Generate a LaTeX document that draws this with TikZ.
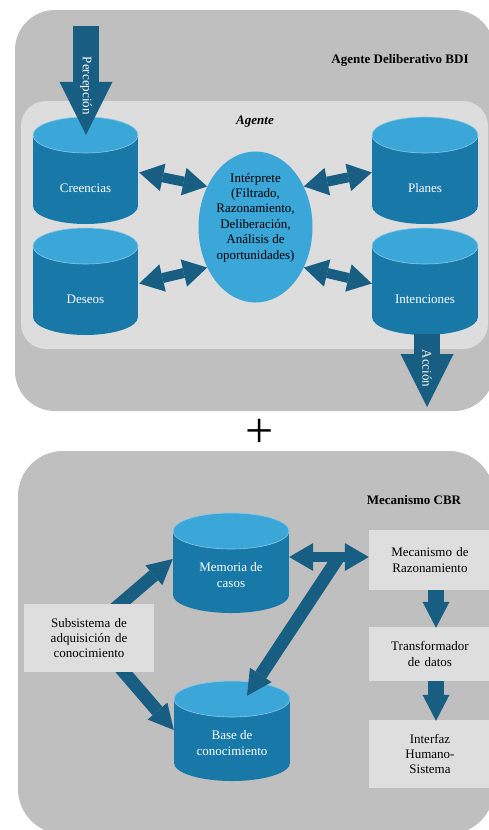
\documentclass[tikz,border=0pt]{standalone}
\usepackage{fontspec}
\setmainfont{Liberation Serif}
\usetikzlibrary{arrows.meta,calc,shapes.geometric}
\definecolor{panelgray}{RGB}{191,191,191}
\definecolor{agentgray}{RGB}{221,221,221}
\definecolor{boxgray}{RGB}{222,222,222}
\definecolor{cylbody}{RGB}{24,120,168}
\definecolor{cyltop}{RGB}{59,166,216}
\definecolor{cyledge}{RGB}{140,200,230}
\definecolor{arrowblue}{RGB}{24,94,130}
% cylinder: name, x, y, width, height, text
\newcommand{\dbcyl}[6]{%
  \fill[cylbody] (#2-#4/2,#3-#5/2+18) rectangle (#2+#4/2,#3+#5/2-18);
  \fill[cylbody] (#2,#3+#5/2-18) ellipse [x radius=#4/2,y radius=18];
  \filldraw[fill=cyltop,draw=cyledge,line width=0.6pt] (#2,#3-#5/2+18) ellipse [x radius=#4/2,y radius=18];
  \node[inner sep=0pt,minimum width=#4,minimum height=#5] (#1) at (#2,#3) {};
  \node[cyllbl] (#1-t) at (#2,#3+12+0.8*#5-80) {#6};}

\begin{document}
\begin{tikzpicture}[x=1pt,y=-1pt,
  txt/.style={font=\fontsize{13}{15.4}\selectfont,align=center,inner sep=0pt},
  cyllbl/.style={txt,text=white},
  ttl/.style={font=\fontsize{13}{15}\selectfont\bfseries,inner sep=0pt},
  lbox/.style={txt,fill=boxgray,minimum width=122,text width=110},
  dblarr/.style={arrowblue,line width=10pt,{Triangle[length=24pt,width=28pt,line width=0pt]}-{Triangle[length=24pt,width=28pt,line width=0pt]}},
  bigarr/.style={arrowblue,line width=26pt,-{Triangle[length=53pt,width=53pt,line width=0pt]}},
  medarr/.style={arrowblue,line width=13pt,-{Triangle[length=25pt,width=26pt,line width=0pt]}},
  dnarr/.style={arrowblue,line width=16pt,-{Triangle[length=26pt,width=27pt,line width=0pt]}}]
\useasboundingbox (0,0) rectangle (489,830);
\clip (0,0) rectangle (489,830);
% panels
\fill[panelgray,rounded corners=40] (15,10) rectangle (494,411);
\fill[agentgray,rounded corners=25] (21,101) rectangle (488,349);
\fill[panelgray,rounded corners=45] (18,451) rectangle (494,834);
\node[ttl] (bdi) at (400,60) {Agente Deliberativo BDI};
\node[ttl] (agt) at (255,122) {\itshape Agente};
\node[ttl] (cbr) at (414,500) {Mecanismo CBR};
\node[font=\fontsize{50}{50}\selectfont,inner sep=0pt] (plus) at (259.5,433) {+};
% BDI agent
\dbcyl{creen}{85.5}{170.5}{105}{107}{Creencias}
\dbcyl{deseos}{85.5}{281.5}{105}{107}{Deseos}
\dbcyl{planes}{425}{170.5}{106}{107}{Planes}
\dbcyl{inten}{425}{281.5}{106}{107}{Intenciones}
\node[ellipse,fill=cyltop,minimum width=114,minimum height=151,inner sep=0pt] (interp) at (255.5,227) {};
\node[txt] (interp-t) at ($(interp.center)+(0,-9.5)$) {Intérprete\\(Filtrado,\\Razonamiento,\\Deliberación,\\Análisis de\\oportunidades)};
\foreach \a/\b in {creen/140,deseos/220} \draw[dblarr] ($(\a.east)+(1,2)$) -- (interp.\b);
\foreach \a/\b in {planes/40,inten/-40} \draw[dblarr] (interp.\b) -- ($(\a.west)+(0,2)$);
\coordinate (percin) at (86,26);
\draw[bigarr] (percin) -- ($(creen.north)+(0.5,18)$) node[pos=0.55,rotate=-90,cyllbl]{Percepción};
\coordinate (accout) at (427,407);
\draw[bigarr] ($(inten.south)+(2,-1)$) -- (accout) node[pos=0.47,rotate=-90,cyllbl]{Acción};
% CBR
\dbcyl{memo}{231}{563}{116}{100}{Memoria de\\casos}
\dbcyl{base}{232}{731}{116}{100}{Base de\\conocimiento}
\coordinate (acq) at (89,638);
\draw[medarr] ($(acq)+(22,-26)$) -- ($(memo.west)+(0,-4)$);
\draw[medarr] ($(acq)+(28,26)$) -- ($(base.west)+(0,-1)$);
\node[lbox,minimum width=130,minimum height=68] (subs) at (acq) {Subsistema de\\adquisición de\\conocimiento};
\node[lbox,minimum height=60] (mecan) at (430,560) {Mecanismo de\\Razonamiento};
\node[lbox,minimum height=54] (trans) at (430,654) {Transformador\\de datos};
\node[lbox,minimum height=68] (interf) at (430,754) {Interfaz\\Humano-\\Sistema};
\draw[dblarr] ($(memo.east)+(0,-6)$) -- ($(mecan.west)+(0,-3)$);
\coordinate (junc) at (338,558);
\draw[medarr] (junc) -- ($(base.north)+(15,15)$);
\foreach \a/\b in {mecan/trans,trans/interf} \draw[dnarr] ($(\a.south)+(6,0)$) -- ($(\b.north)+(6,1)$);
\end{tikzpicture}
\end{document}
